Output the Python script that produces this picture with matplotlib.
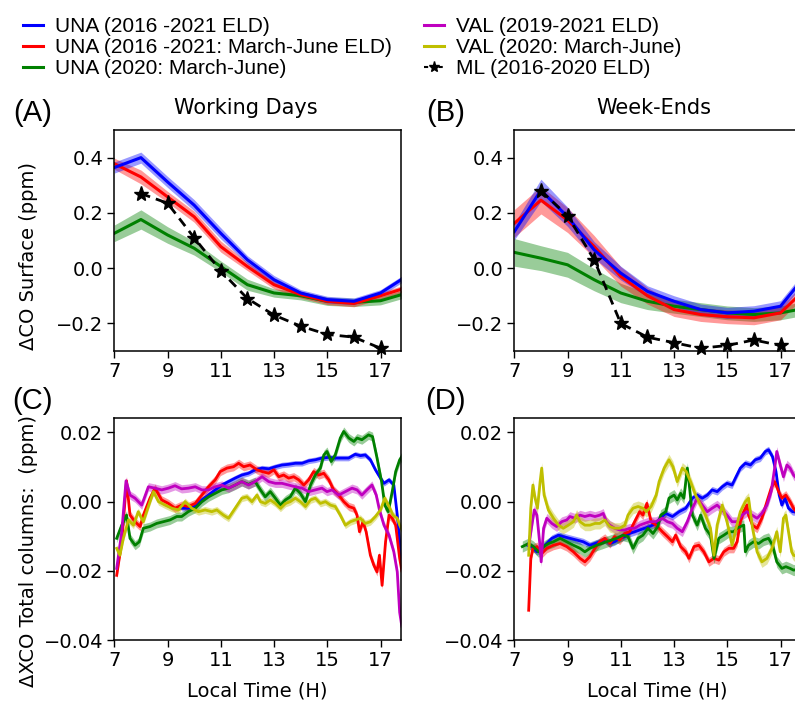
import matplotlib
matplotlib.use("Agg")
import matplotlib.pyplot as plt
from matplotlib.lines import Line2D
import numpy as np

# ---------------- data: surface CO (hourly) ----------------
hours = [7, 8, 9, 10, 11, 12, 13, 14, 15, 16, 17, 18]
ml_hours = [8, 9, 10, 11, 12, 13, 14, 15, 16, 17]

a_blue = [0.364, 0.400, 0.312, 0.228, 0.126, 0.030, -0.042, -0.090, -0.114, -0.120, -0.090, -0.028]
a_red = [0.378, 0.330, 0.258, 0.186, 0.078, 0.006, -0.060, -0.096, -0.120, -0.128, -0.100, -0.070]
a_green = [0.126, 0.176, 0.120, 0.072, 0.006, -0.060, -0.090, -0.100, -0.120, -0.124, -0.118, -0.090]
a_ml = [0.27, 0.235, 0.11, -0.01, -0.11, -0.17, -0.21, -0.24, -0.25, -0.29]
a_blue_err = [0.02, 0.02, 0.02, 0.02, 0.02, 0.015, 0.015, 0.012, 0.012, 0.012, 0.012, 0.012]
a_red_err = [0.02, 0.025, 0.02, 0.02, 0.02, 0.015, 0.015, 0.012, 0.012, 0.012, 0.012, 0.012]
a_green_err = [0.03, 0.035, 0.03, 0.025, 0.02, 0.02, 0.015, 0.015, 0.015, 0.015, 0.015, 0.015]

b_blue = [0.132, 0.282, 0.186, 0.066, -0.018, -0.084, -0.120, -0.150, -0.162, -0.156, -0.138, -0.020]
b_red = [0.162, 0.246, 0.174, 0.078, -0.030, -0.100, -0.150, -0.168, -0.176, -0.180, -0.162, -0.070]
b_green = [0.057, 0.036, 0.012, -0.042, -0.090, -0.120, -0.138, -0.150, -0.162, -0.168, -0.162, -0.144]
b_ml = [0.28, 0.19, 0.03, -0.20, -0.25, -0.27, -0.29, -0.28, -0.26, -0.28]
b_blue_err = [0.03, 0.04, 0.035, 0.03, 0.025, 0.02, 0.02, 0.02, 0.02, 0.02, 0.02, 0.02]
b_red_err = [0.05, 0.05, 0.045, 0.04, 0.035, 0.03, 0.025, 0.025, 0.025, 0.025, 0.025, 0.025]
b_green_err = [0.05, 0.045, 0.045, 0.04, 0.035, 0.03, 0.025, 0.025, 0.025, 0.025, 0.025, 0.025]

# ---------------- data: total column XCO (C, working days) ----------------
c_blue_t = [9.53, 9.78, 10.04, 10.29, 10.54, 10.79, 11.04, 11.29, 11.54, 11.79, 12.04, 12.29, 12.55, 12.8, 13.05,
            13.3, 13.55, 13.8, 14.05, 14.3, 14.55, 14.8, 15.05, 15.3, 15.55, 15.8, 16.05, 16.24, 16.43, 16.62, 16.81,
            17.0, 17.13, 17.32, 17.5, 17.63, 17.72, 17.8]
c_blue_v = [-0.0019, -0.0019, -0.0014, 0.0005, 0.0019, 0.0034, 0.0048, 0.0058, 0.0068, 0.0077, 0.0082, 0.0092,
            0.0097, 0.0095, 0.0101, 0.0106, 0.0108, 0.0111, 0.0111, 0.0118, 0.0121, 0.0126, 0.0128, 0.0126, 0.0126,
            0.0126, 0.0137, 0.0133, 0.0135, 0.0121, 0.0092, 0.0068, 0.0053, 0.0063, 0.0048, -0.0039, -0.0116, -0.018]

c_red_t = [7.09, 7.28, 7.46, 7.59, 7.78, 7.97, 8.09, 8.34, 8.53, 8.78, 9.03, 9.28, 9.53, 9.78, 10.04, 10.29, 10.54,
           10.79, 10.98, 11.23, 11.48, 11.67, 11.86, 12.1, 12.36, 12.55, 12.8, 12.99, 13.18, 13.36, 13.55, 13.74,
           13.93, 14.12, 14.3, 14.49, 14.68, 14.87, 15.06, 15.24, 15.43, 15.62, 15.81, 16.0, 16.12, 16.21, 16.34,
           16.46, 16.62, 16.75, 16.87, 16.96, 17.06, 17.19, 17.32, 17.44, 17.57, 17.72, 17.8]
c_red_v = [-0.0213, -0.0116, 0.0060, -0.0039, -0.0058, -0.0072, -0.0039, 0.0010, 0.0039, 0.0005, -0.0005, -0.0019,
           -0.0010, -0.0014, -0.0005, 0.0019, 0.0043, 0.0063, 0.0087, 0.0097, 0.0101, 0.0111, 0.0101, 0.0106, 0.0092,
           0.0087, 0.0082, 0.0092, 0.0072, 0.0077, 0.0068, 0.0072, 0.0063, 0.0048, 0.0063, 0.0087, 0.0077, 0.0082,
           0.0063, 0.0034, 0.0019, 0.0000, -0.0014, -0.0019, -0.0039, -0.0087, -0.0058, -0.0087, -0.0155, -0.0184,
           -0.0203, -0.0155, -0.0242, -0.0116, -0.0039, -0.0048, -0.0068, -0.0164, -0.020]

c_green_t = [7.09, 7.28, 7.46, 7.59, 7.78, 7.94, 8.09, 8.34, 8.59, 8.84, 9.09, 9.35, 9.53, 9.78, 10.04, 10.29, 10.54,
             10.79, 11.04, 11.29, 11.54, 11.79, 12.04, 12.29, 12.49, 12.67, 12.86, 13.05, 13.24, 13.43, 13.61, 13.8,
             13.99, 14.18, 14.37, 14.55, 14.74, 14.87, 14.99, 15.15, 15.3, 15.49, 15.62, 15.81, 16.0, 16.12, 16.3,
             16.55, 16.7, 16.87, 17.04, 17.16, 17.29, 17.44, 17.57, 17.72, 17.8]
c_green_v = [-0.0106, -0.0068, -0.0039, -0.0106, -0.0126, -0.0116, -0.0077, -0.0072, -0.0063, -0.0058, -0.0053,
             -0.0043, -0.0043, -0.0029, -0.0019, 0.0000, 0.0014, 0.0024, 0.0034, 0.0039, 0.0048, 0.0058, 0.0050,
             0.0058, 0.0034, 0.0014, 0.0029, 0.0010, -0.0010, 0.0005, 0.0014, 0.0039, 0.0024, 0.0000, 0.0048, 0.0077,
             0.0097, 0.0135, 0.0145, 0.0116, 0.0135, 0.0184, 0.0203, 0.0184, 0.0174, 0.0184, 0.0179, 0.0193, 0.0188,
             0.0126, 0.0058, -0.0010, -0.0029, 0.0029, 0.0087, 0.0121, 0.013]

c_mag_t = [7.09, 7.28, 7.44, 7.59, 7.78, 8.03, 8.28, 8.53, 8.78, 9.03, 9.28, 9.53, 9.78, 10.04, 10.29, 10.54, 10.79,
           11.04, 11.29, 11.54, 11.79, 12.04, 12.29, 12.55, 12.8, 13.05, 13.3, 13.55, 13.8, 14.05, 14.3, 14.55, 14.8,
           14.99, 15.18, 15.43, 15.68, 15.93, 16.12, 16.3, 16.49, 16.68, 16.84, 16.96, 17.13, 17.32, 17.5, 17.63,
           17.72, 17.8]
c_mag_v = [-0.0193, -0.0087, 0.0060, 0.0019, 0.0010, -0.0010, 0.0043, 0.0039, 0.0034, 0.0039, 0.0046, 0.0037,
           0.0039, 0.0043, 0.0034, 0.0034, 0.0043, 0.0048, 0.0039, 0.0048, 0.0058, 0.0048, 0.0058, 0.0072, 0.0058,
           0.0053, 0.0053, 0.0048, 0.0043, 0.0039, 0.0029, 0.0034, 0.0039, 0.0029, 0.0034, 0.0019, 0.0029, 0.0039,
           0.0034, 0.0019, 0.0034, 0.0048, 0.0019, -0.0024, -0.0068, -0.0097, -0.0145, -0.0203, -0.0320, -0.036]

c_yel_t = [7.09, 7.21, 7.34, 7.53, 7.72, 7.9, 8.09, 8.28, 8.47, 8.66, 8.91, 9.16, 9.41, 9.66, 9.91, 10.16, 10.41,
           10.66, 10.85, 11.1, 11.29, 11.54, 11.79, 11.98, 12.17, 12.36, 12.49, 12.67, 12.86, 13.05, 13.24, 13.43,
           13.61, 13.8, 13.99, 14.18, 14.37, 14.55, 14.74, 14.93, 15.12, 15.3, 15.49, 15.68, 15.87, 16.05, 16.24,
           16.43, 16.62, 16.81, 17.0, 17.16, 17.32, 17.47, 17.63, 17.72, 17.8]
c_yel_v = [-0.0135, -0.0155, -0.0106, -0.0053, -0.0068, -0.0029, -0.0058, -0.0014, 0.0029, 0.0000, -0.0010,
           -0.0019, -0.0024, 0.0000, -0.0019, -0.0029, -0.0024, -0.0029, -0.0024, -0.0039, -0.0048, -0.0019, 0.0010,
           0.0014, 0.0000, 0.0019, 0.0000, -0.0005, 0.0005, -0.0005, -0.0019, -0.0005, 0.0000, 0.0010, 0.0000,
           -0.0014, 0.0005, 0.0010, -0.0005, 0.0000, -0.0010, -0.0014, -0.0039, -0.0068, -0.0058, -0.0053, -0.0048,
           -0.0063, -0.0058, -0.0043, -0.0024, 0.0010, -0.0014, -0.0039, -0.0048, -0.0068, -0.008]

# ---------------- data: total column XCO (D, week-ends) ----------------
d_blue_t = [7.5, 7.66, 7.85, 8.03, 8.22, 8.41, 8.66, 8.84, 9.09, 9.34, 9.59, 9.84, 10.03, 10.21, 10.4, 10.59, 10.77,
            10.96, 11.15, 11.33, 11.52, 11.71, 11.89, 12.08, 12.33, 12.5, 12.69, 12.94, 13.19, 13.44, 13.69, 13.87,
            14.06, 14.25, 14.43, 14.62, 14.81, 14.99, 15.18, 15.33, 15.49, 15.68, 15.87, 16.05, 16.24, 16.43, 16.55,
            16.7, 16.83, 16.95, 17.05, 17.17, 17.3, 17.45, 17.7]
d_blue_v = [-0.0126, -0.0130, -0.0145, -0.0135, -0.0121, -0.0106, -0.0097, -0.0101, -0.0106, -0.0111, -0.0116,
            -0.0126, -0.0121, -0.0116, -0.0111, -0.0121, -0.0116, -0.0106, -0.0101, -0.0092, -0.0087, -0.0082,
            -0.0077, -0.0072, -0.0063, -0.0045, -0.0034, -0.0043, -0.0029, -0.0019, 0.0010, 0.0019, 0.0010, 0.0019,
            0.0034, 0.0029, 0.0043, 0.0053, 0.0048, 0.0072, 0.0097, 0.0111, 0.0106, 0.0121, 0.0126, 0.0145, 0.0150,
            0.0130, 0.0087, 0.0019, -0.0010, 0.0010, -0.0019, -0.0029, -0.0030]

d_red_t = [7.54, 7.62, 7.7, 7.85, 8.03, 8.22, 8.47, 8.72, 8.97, 9.22, 9.47, 9.65, 9.84, 10.03, 10.21, 10.4, 10.59,
           10.77, 10.96, 11.15, 11.33, 11.52, 11.71, 11.83, 11.98, 12.14, 12.33, 12.56, 12.75, 12.94, 13.06, 13.25,
           13.44, 13.56, 13.75, 13.93, 14.12, 14.31, 14.5, 14.68, 14.87, 15.06, 15.24, 15.37, 15.49, 15.62, 15.74,
           15.8, 15.95, 16.12, 16.3, 16.49, 16.65, 16.78, 16.93, 17.05, 17.2, 17.36, 17.49, 17.7]
d_red_v = [-0.0314, -0.0164, -0.0135, -0.0130, -0.0150, -0.0135, -0.0126, -0.0121, -0.0130, -0.0145, -0.0164,
           -0.0174, -0.0159, -0.0135, -0.0116, -0.0106, -0.0121, -0.0101, -0.0111, -0.0092, -0.0087, -0.0058,
           -0.0029, -0.0039, -0.0005, -0.0058, -0.0068, -0.0087, -0.0101, -0.0116, -0.0097, -0.0130, -0.0145,
           -0.0164, -0.0130, -0.0126, -0.0145, -0.0174, -0.0164, -0.0169, -0.0145, -0.0135, -0.0135, -0.0116,
           -0.0058, -0.0029, -0.0010, -0.0039, -0.0068, -0.0077, -0.0048, 0.0000, 0.0039, 0.0058, 0.0029, 0.0010,
           0.0019, 0.0000, -0.0019, -0.0040]

d_green_t = [7.3, 7.54, 7.72, 7.91, 8.1, 8.28, 8.47, 8.72, 8.97, 9.22, 9.47, 9.65, 9.84, 10.09, 10.28, 10.46, 10.65,
             10.84, 11.08, 11.27, 11.46, 11.65, 11.83, 12.02, 12.21, 12.39, 12.5, 12.69, 12.81, 13.0, 13.12, 13.25,
             13.37, 13.5, 13.56, 13.69, 13.87, 14.0, 14.18, 14.37, 14.5, 14.68, 14.87, 15.06, 15.24, 15.37, 15.49,
             15.62, 15.68, 15.8, 15.99, 16.18, 16.36, 16.55, 16.7, 16.86, 17.05, 17.2, 17.36, 17.49, 17.7]
d_green_v = [-0.0130, -0.0121, -0.0130, -0.0145, -0.0130, -0.0121, -0.0116, -0.0106, -0.0116, -0.0126, -0.0135,
             -0.0145, -0.0135, -0.0126, -0.0121, -0.0116, -0.0111, -0.0106, -0.0097, -0.0101, -0.0135, -0.0106,
             -0.0097, -0.0077, -0.0092, -0.0072, -0.0039, -0.0029, 0.0010, 0.0019, 0.0005, 0.0024, 0.0010, 0.0097,
             0.0058, -0.0039, -0.0068, -0.0039, -0.0077, -0.0097, -0.0164, -0.0106, -0.0097, -0.0087, -0.0087,
             -0.0077, -0.0072, -0.0068, -0.0145, -0.0126, -0.0116, -0.0121, -0.0111, -0.0106, -0.0126, -0.0174,
             -0.0193, -0.0188, -0.0193, -0.0198, -0.0195]

d_mag_t = [7.55, 7.66, 7.75, 7.85, 7.95, 8.01, 8.1, 8.22, 8.41, 8.59, 8.78, 8.97, 9.09, 9.28, 9.47, 9.65, 9.84, 10.03,
           10.21, 10.34, 10.46, 10.59, 10.77, 10.96, 11.15, 11.33, 11.52, 11.71, 11.89, 12.08, 12.31, 12.56, 12.75,
           12.94, 13.12, 13.31, 13.5, 13.69, 13.87, 14.06, 14.25, 14.43, 14.62, 14.81, 14.99, 15.18, 15.37, 15.55,
           15.74, 15.93, 16.12, 16.3, 16.49, 16.65, 16.78, 16.86, 16.99, 17.11, 17.24, 17.36, 17.49, 17.7]
d_mag_v = [-0.0125, -0.0068, -0.0024, -0.0039, -0.0116, -0.0174, -0.0077, -0.0048, -0.0063, -0.0072, -0.0058,
           -0.0053, -0.0043, -0.0048, -0.0039, -0.0043, -0.0039, -0.0043, -0.0039, -0.0034, -0.0058, -0.0068,
           -0.0077, -0.0082, -0.0082, -0.0077, -0.0077, -0.0068, -0.0063, -0.0058, -0.0058, -0.0048, -0.0058,
           -0.0063, -0.0077, -0.0087, -0.0058, -0.0019, 0.0010, -0.0010, -0.0029, -0.0019, -0.0010, -0.0024,
           -0.0039, -0.0058, -0.0058, -0.0039, -0.0029, -0.0039, -0.0048, -0.0034, -0.0010, 0.0029, 0.0097, 0.0145,
           0.0106, 0.0072, 0.0106, 0.0097, 0.0077, 0.0060]

d_yel_t = [7.54, 7.62, 7.7, 7.78, 7.87, 7.97, 8.03, 8.12, 8.28, 8.47, 8.66, 8.84, 9.03, 9.22, 9.34, 9.47, 9.65, 9.84,
           10.03, 10.21, 10.4, 10.59, 10.77, 10.96, 11.15, 11.27, 11.46, 11.65, 11.83, 11.96, 12.14, 12.33, 12.44,
           12.63, 12.81, 12.96, 13.12, 13.31, 13.46, 13.62, 13.81, 14.0, 14.18, 14.37, 14.5, 14.62, 14.81, 14.99,
           15.18, 15.33, 15.49, 15.68, 15.8, 15.95, 16.12, 16.3, 16.49, 16.68, 16.86, 16.99, 17.11, 17.2, 17.3,
           17.42, 17.49, 17.7]
d_yel_v = [-0.0155, -0.0019, 0.0048, 0.0010, -0.0019, 0.0058, 0.0097, 0.0019, -0.0024, -0.0048, -0.0068, -0.0077,
           -0.0068, -0.0058, -0.0039, -0.0058, -0.0068, -0.0068, -0.0063, -0.0063, -0.0053, -0.0072, -0.0077,
           -0.0077, -0.0068, -0.0039, -0.0019, -0.0014, -0.0019, -0.0029, -0.0014, 0.0019, 0.0058, 0.0097, 0.0121,
           0.0101, 0.0058, 0.0097, 0.0087, 0.0058, 0.0019, -0.0010, -0.0039, -0.0077, -0.0155, -0.0068, -0.0010,
           -0.0058, -0.0126, -0.0077, -0.0029, 0.0000, 0.0010, -0.0077, -0.0145, -0.0174, -0.0164, -0.0135, -0.0087,
           -0.0145, -0.0048, -0.0039, -0.0087, -0.0145, -0.0155, -0.0160]

# band half-widths (ppm) for the column panels
col_err_c = {"b": 0.0008, "r": 0.0012, "g": 0.0013, "m": 0.0012, "y": 0.0010}
col_err_d = {"b": 0.0010, "r": 0.0013, "g": 0.0016, "m": 0.0014, "y": 0.0016}

labels = ["UNA (2016 -2021 ELD)", "UNA (2016 -2021: March-June ELD)", "UNA (2020: March-June)",
          "VAL (2019-2021 ELD)", "VAL (2020: March-June)", "ML (2016-2020 ELD)"]

# ---------------- figure ----------------
W, H = 795, 702
fig = plt.figure(figsize=(W / 100, H / 100), dpi=100)
plt.rcParams["font.family"] = "DejaVu Sans"


def px_axes(left, top, right, bottom):
    return fig.add_axes([left / W, 1 - bottom / H, (right - left) / W, (bottom - top) / H])


axA = px_axes(114.3, 130, 401, 351)
axB = px_axes(514.3, 130, 801, 351)
axC = px_axes(114.3, 418.3, 401, 640)
axD = px_axes(514.3, 418.3, 801, 640)

XMAX = 17.77
band_alpha = 0.4

for ax, blue, red, green, ml, be, re_, ge in [
        (axA, a_blue, a_red, a_green, a_ml, a_blue_err, a_red_err, a_green_err),
        (axB, b_blue, b_red, b_green, b_ml, b_blue_err, b_red_err, b_green_err)]:
    for vals, err, col in [(green, ge, "g"), (red, re_, "r"), (blue, be, "b")]:
        v = np.array(vals)
        e = np.array(err)
        ax.fill_between(hours, v - e, v + e, color=col, alpha=band_alpha, lw=0)
    for vals, col in [(green, "g"), (red, "r"), (blue, "b")]:
        ax.plot(hours, vals, color=col, lw=2.2)
    ax.plot(ml_hours, ml, color="k", ls=(0, (3.5, 2.2)), lw=2.0, marker="*", ms=11, clip_on=False, zorder=5)
    ax.set_ylim(-0.3, 0.5)
    ax.set_yticks([-0.2, 0.0, 0.2, 0.4])
    ax.set_yticklabels(["\u22120.2", "0.0", "0.2", "0.4"])

for ax, series, errs in [
        (axC, [(c_blue_t, c_blue_v, "b"), (c_red_t, c_red_v, "r"), (c_green_t, c_green_v, "g"),
               (c_mag_t, c_mag_v, "m"), (c_yel_t, c_yel_v, "y")], col_err_c),
        (axD, [(d_blue_t, d_blue_v, "b"), (d_red_t, d_red_v, "r"), (d_green_t, d_green_v, "g"),
               (d_mag_t, d_mag_v, "m"), (d_yel_t, d_yel_v, "y")], col_err_d)]:
    for t, v, col in series:
        v = np.array(v)
        ax.fill_between(t, v - errs[col], v + errs[col], color=col, alpha=band_alpha, lw=0)
    for t, v, col in series:
        ax.plot(t, v, color=col, lw=2.0)
    ax.set_ylim(-0.04, 0.0241)
    ax.set_yticks([-0.04, -0.02, 0.0, 0.02])
    ax.set_yticklabels(["\u22120.04", "\u22120.02", "0.00", "0.02"])

for ax in (axA, axB, axC, axD):
    ax.set_xlim(7, XMAX)
    ax.set_xticks([7, 9, 11, 13, 15, 17])
    ax.tick_params(labelsize=14, length=5, width=1.0, pad=3)
    for s in ax.spines.values():
        s.set_linewidth(1.1)

for ax in (axC, axD):
    ax.set_xlabel("Local Time (H)", fontsize=14, labelpad=8)

axA.set_ylabel("\u0394CO Surface (ppm)", fontsize=14)
axA.yaxis.set_label_coords(-0.265, 0.43)
axC.set_ylabel("\u0394XCO Total columns:  (ppm)", fontsize=14)
axC.yaxis.set_label_coords(-0.265, 0.40)

axA.text(0.459, 1.10, "Working Days", transform=axA.transAxes, ha="center", va="center", fontsize=15)
axB.text(0.4855, 1.10, "Week-Ends", transform=axB.transAxes, ha="center", va="center", fontsize=15)

for lab, x, y in [("(A)", 32.5, 113), ("(B)", 446, 113), ("(C)", 32.5, 401), ("(D)", 445.5, 401)]:
    fig.text(x / W, 1 - y / H, lab, ha="center", va="center", fontsize=21, family="Liberation Sans")

handles = [Line2D([], [], color="b", lw=2.2), Line2D([], [], color="r", lw=2.2), Line2D([], [], color="g", lw=2.2),
           Line2D([], [], color="m", lw=2.2), Line2D([], [], color="y", lw=2.2),
           Line2D([], [], color="k", lw=1.5, ls=(0, (2, 1.5)), marker="*", ms=8)]
fig.legend(handles, labels, loc="upper left", bbox_to_anchor=(23 / W, 1 - 17 / H), ncol=2, frameon=False,
           prop={"family": "Liberation Sans", "size": 15}, handlelength=0.96, handletextpad=0.58,
           columnspacing=1.55, labelspacing=0.1, borderpad=0, borderaxespad=0)

fig.savefig("out.png", dpi=100, facecolor="white")
